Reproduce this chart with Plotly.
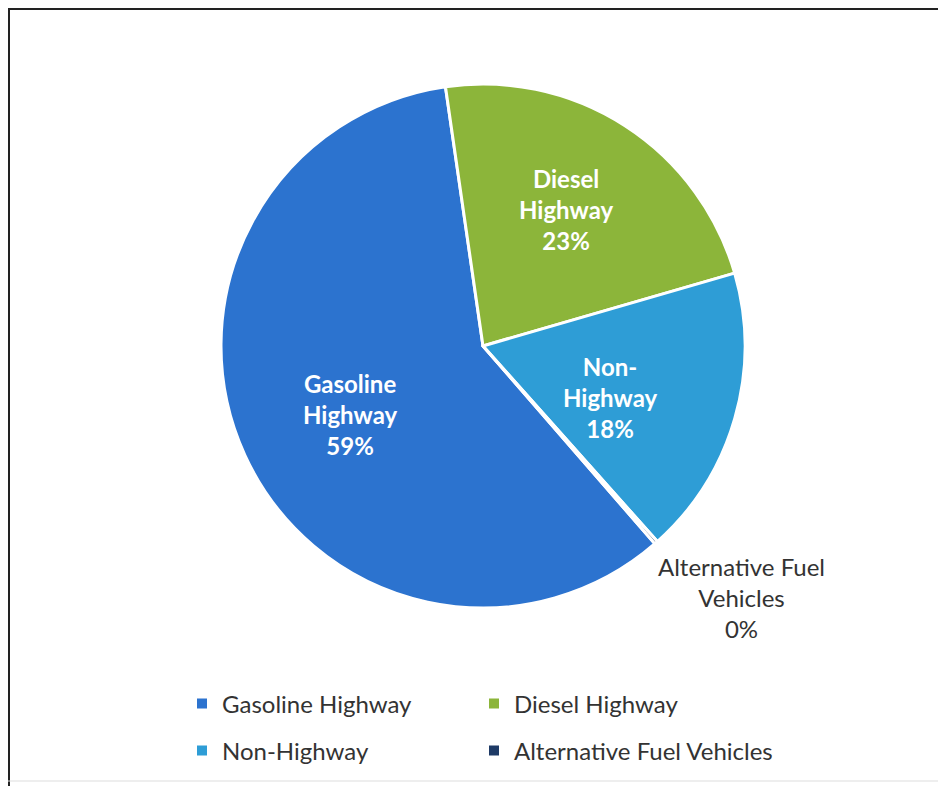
import plotly.graph_objects as go

# ── Data ──────────────────────────────────────────────────────────────────────
categories = ["Gasoline Highway", "Diesel Highway", "Non-Highway", "Alternative Fuel Vehicles"]
shares = [59.1, 22.8, 17.9, 0.2]
slice_labels = ["Gasoline<br>Highway<br>59%", "Diesel<br>Highway<br>23%", "Non-<br>Highway<br>18%",
                "Alternative Fuel<br>Vehicles<br>0%"]
colors = ["#2C73CF", "#8CB53A", "#2E9DD6", "#1E3A66"]

# page body adds an 8px offset, so the figure is sized/placed to compensate
OFF = 8
W, H = 946 - OFF, 786 - OFF
FONT = "Lato, Calibri, sans-serif"


def px_x(x):
    # reference pixel -> paper fraction
    return (x - OFF) / W


def px_y(y):
    return 1 - (y - OFF) / H


fig = go.Figure(go.Pie(
    labels=categories,
    values=shares,
    sort=False,
    direction="clockwise",
    rotation=139,
    marker=dict(colors=colors, line=dict(color="#FFFFFF", width=3)),
    textinfo="none",
    domain=dict(x=[px_x(221), px_x(745)], y=[px_y(608), px_y(84)]),
    hoverinfo="label+percent",
    showlegend=False,
))

# legend proxies: 2x2 grid, one small legend per entry
legend_ids = ["legend", "legend2", "legend3", "legend4"]
legend_xy = [(182, 704), (474, 704), (182, 751), (474, 751)]
for name, col, lid in zip(categories, colors, legend_ids):
    fig.add_trace(go.Scatter(
        x=[None], y=[None], mode="markers", name=name,
        marker=dict(symbol="square", size=10, color=col),
        legend=lid,
    ))

# slice labels (inside ones white bold, the tiny slice outside in dark)
label_pos = [(350, 414), (566, 209), (610, 398), (741, 597)]
for i, (txt, (x, y)) in enumerate(zip(slice_labels, label_pos)):
    inside = i < 3
    fig.add_annotation(
        x=px_x(x), y=px_y(y), xref="paper", yref="paper",
        xanchor="center", yanchor="middle",
        text=f"<b>{txt}</b>" if inside else txt,
        showarrow=False, align="center",
        font=dict(family=FONT, size=24, color="#FFFFFF" if inside else "#333333"),
    )

# frame of the scanned figure box
fig.add_shape(type="line", xref="paper", yref="paper", x0=0, x1=1, y0=1, y1=1,
              line=dict(color="#222222", width=4))
fig.add_shape(type="line", xref="paper", yref="paper", x0=0, x1=0, y0=0, y1=1,
              line=dict(color="#222222", width=4))
fig.add_shape(type="line", xref="paper", yref="paper", x0=0, x1=1, y0=px_y(781), y1=px_y(781),
              line=dict(color="#DDDDDD", width=1))

legend_style = dict(
    xanchor="left", yanchor="middle",
    font=dict(family=FONT, size=24, color="#333333"),
    bgcolor="rgba(0,0,0,0)",
)
legends = {lid: dict(x=px_x(x), y=px_y(y), **legend_style)
           for lid, (x, y) in zip(legend_ids, legend_xy)}

fig.update_layout(
    width=W, height=H,
    margin=dict(l=0, r=0, t=0, b=0),
    paper_bgcolor="#FFFFFF",
    plot_bgcolor="#FFFFFF",
    font=dict(family=FONT, color="#333333"),
    xaxis=dict(visible=False),
    yaxis=dict(visible=False),
    **legends,
)

fig.write_html("out.html")
